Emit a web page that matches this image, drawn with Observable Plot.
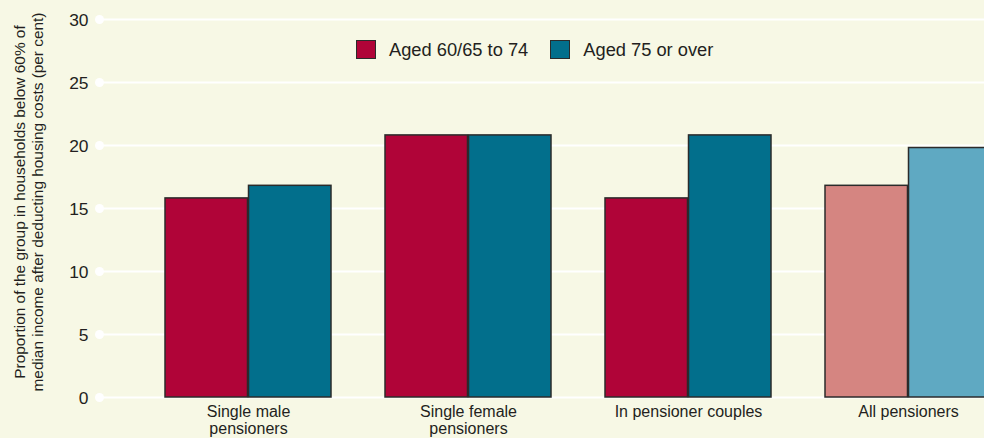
<!DOCTYPE html>
<html>
<head>
<meta charset="utf-8">
<script src="https://cdn.jsdelivr.net/npm/d3@7"></script>
<script src="https://cdn.jsdelivr.net/npm/@observablehq/plot@0.6"></script>
<style>
  html, body { margin: 0; padding: 0; background: #f7f8e5; }
  #wrap { position: relative; width: 984px; height: 438px; overflow: hidden; font-family: "Liberation Sans", Arial, sans-serif; color: #231f20; }
  #legend { position: absolute; top: 40px; left: 356px; display: flex; align-items: center; font-size: 18.3px; line-height: 19px; }
  #legend .item { display: flex; align-items: center; margin-right: 22px; }
  #legend .sw { width: 20px; height: 19px; box-sizing: border-box; border: 1.2px solid #2b2b2b; margin-right: 13px; }
</style>
</head>
<body>
<div id="wrap"><div id="legend"></div></div>
<script>
const categories = ["Single male\npensioners", "Single female\npensioners", "In pensioner couples", "All pensioners"];
const seriesNames = ["Aged 60/65 to 74", "Aged 75 or over"];
const aged6074 = [15.8, 20.8, 15.8, 16.8];
const aged75 = [16.8, 20.8, 20.8, 19.8];
const yTicks = [0, 5, 10, 15, 20, 25, 30];
const yTitle = "Proportion of the group in households below 60% of\nmedian income after deducting housing costs (per cent)";

const rows = categories.flatMap((c, i) => [
  {group: c, series: seriesNames[0], value: aged6074[i]},
  {group: c, series: seriesNames[1], value: aged75[i]}
]);

const dark = {[seriesNames[0]]: "#b00438", [seriesNames[1]]: "#026f8c"};
const light = {[seriesNames[0]]: "#d58581", [seriesNames[1]]: "#5fa9c2"};
const fillOf = d => (d.group === "All pensioners" ? light : dark)[d.series];

const r0 = 163, r1 = 993, pad = 0.2443;
const bw = (r1 - r0) / (categories.length - pad) * (1 - pad);
const half = bw / 2;

const chart = Plot.plot({
  width: 984,
  height: 438,
  marginLeft: 99,
  marginRight: 0,
  marginTop: 19,
  marginBottom: 41,
  style: {background: "transparent", fontFamily: "'Liberation Sans', Arial, sans-serif", color: "#231f20", overflow: "hidden"},
  x: {type: "band", domain: categories, range: [r0, r1], paddingInner: pad, paddingOuter: 0, axis: null},
  y: {domain: [0, 30], axis: null},
  marks: [
    Plot.ruleY(yTicks, {y: d => d, stroke: "white", strokeWidth: 2}),
    Plot.dot(yTicks, {y: d => d, frameAnchor: "left", r: 4.5, fill: "white", stroke: "none"}),
    Plot.barY(rows.filter(d => d.series === seriesNames[0]), {x: "group", y: "value", fill: fillOf, stroke: "#2b2b2b", strokeWidth: 1.5, insetRight: half}),
    Plot.barY(rows.filter(d => d.series === seriesNames[1]), {x: "group", y: "value", fill: fillOf, stroke: "#2b2b2b", strokeWidth: 1.5, insetLeft: half}),
    Plot.axisY({ticks: yTicks, tickSize: 0, tickPadding: 11, fontSize: 17.4, dy: 1, label: null, tickFormat: d => String(d)}),
    Plot.axisX({tickSize: 0, tickPadding: 8, fontSize: 16, label: null, lineHeight: 1.04}),
    Plot.text([yTitle], {text: d => d, frameAnchor: "left", dx: -71.5, dy: -6.5, rotate: -90, fontSize: 15.4, lineHeight: 1.22, textAnchor: "middle", lineAnchor: "middle"})
  ]
});
document.getElementById("wrap").prepend(chart);

const legend = document.getElementById("legend");
seriesNames.forEach(s => {
  const item = document.createElement("div");
  item.className = "item";
  const sw = document.createElement("div");
  sw.className = "sw";
  sw.style.background = dark[s];
  const t = document.createElement("span");
  t.textContent = s;
  item.append(sw, t);
  legend.append(item);
});
</script>
</body>
</html>
